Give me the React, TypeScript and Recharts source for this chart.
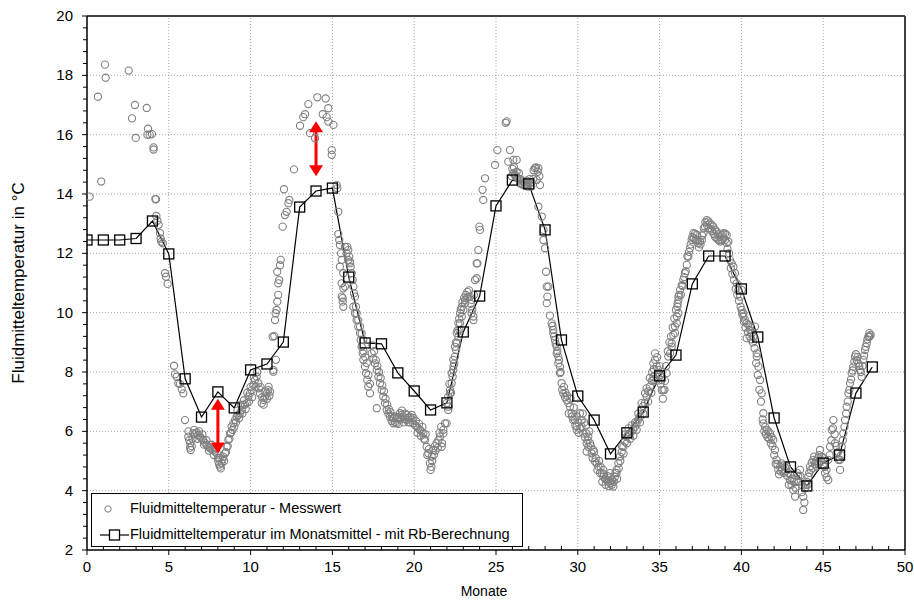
import React from "react";
import {
  ComposedChart,
  Scatter,
  Line,
  XAxis,
  YAxis,
  ReferenceLine,
  ReferenceDot,
} from "recharts";

// Monthly mean (with Rb calculation), months 0..48
const meanMonths = [
  0, 1, 2, 3, 4, 5, 6, 7, 8, 9, 10, 11, 12, 13, 14, 15, 16, 17, 18, 19, 20, 21, 22, 23, 24,
  25, 26, 27, 28, 29, 30, 31, 32, 33, 34, 35, 36, 37, 38, 39, 40, 41, 42, 43, 44, 45, 46, 47, 48,
];
const meanTemps = [
  12.45, 12.45, 12.45, 12.5, 13.09, 11.98, 7.77, 6.48, 7.33, 6.79, 8.07, 8.27, 9.01, 13.56,
  14.1, 14.2, 11.2, 8.98, 8.95, 7.97, 7.36, 6.72, 6.96, 9.35, 10.56, 13.6, 14.47, 14.34, 12.79,
  9.08, 7.19, 6.38, 5.24, 5.95, 6.65, 7.87, 8.57, 10.97, 11.91, 11.91, 10.8, 9.18, 6.45, 4.8,
  4.16, 4.93, 5.2, 7.29, 8.17,
];

// Measured values [month, °C] – main track
const measured: [number, number][] = [
  [0.16, 13.91], [0.67, 17.28], [0.87, 14.42], [1.1, 18.36], [1.14, 17.92], [2.55, 18.16],
  [2.75, 16.55], [2.93, 17.0], [2.98, 15.89], [3.65, 16.9], [3.69, 16.0], [3.73, 16.2],
  [3.83, 16.0], [3.97, 16.02], [4.07, 15.57], [4.07, 15.5], [4.18, 13.83], [4.22, 13.82],
  [4.24, 13.26], [4.3, 13.1], [4.38, 12.96], [4.46, 12.68], [4.5, 12.5], [4.54, 12.39],
  [4.63, 12.34], [4.77, 11.33], [4.83, 11.21], [4.93, 10.97],
  [5.32, 8.21], [5.38, 7.92], [5.48, 7.84], [5.58, 7.62], [5.68, 7.6], [5.79, 7.42],
  [5.89, 7.28], [5.99, 6.38],
  [6.19, 5.82], [6.25, 5.7], [6.3, 5.6], [6.34, 5.37], [6.4, 5.5], [6.5, 5.93], [6.6, 5.9],
  [6.7, 5.96], [6.8, 5.88], [6.9, 5.82], [7.0, 5.76], [7.1, 5.71], [7.2, 5.62], [7.32, 5.54],
  [7.42, 5.48], [7.52, 5.43], [7.62, 5.4], [7.72, 5.37], [7.82, 5.32], [7.93, 5.26],
  [8.03, 4.98], [8.08, 4.88], [8.13, 4.81], [8.23, 4.92], [8.33, 5.15], [8.44, 5.26],
  [8.54, 5.48], [8.64, 5.71], [8.74, 5.93], [8.84, 6.16], [8.94, 6.27], [9.05, 6.38],
  [9.15, 6.49], [9.25, 6.55], [9.35, 6.61], [9.46, 6.72], [9.56, 6.89], [9.66, 6.9],
  [9.76, 6.95], [9.86, 7.17], [9.96, 7.28], [10.07, 7.39], [10.17, 7.56], [10.27, 7.73],
  [10.37, 7.84], [10.47, 7.62], [10.57, 7.28], [10.68, 6.95], [10.78, 7.06], [10.88, 7.17],
  [10.98, 7.28], [11.08, 7.39], [11.19, 7.34],
  [11.35, 9.19], [11.39, 8.01], [11.39, 8.07], [11.45, 9.21], [11.49, 9.75], [11.53, 9.98],
  [11.55, 8.41], [11.59, 10.09], [11.63, 10.37], [11.63, 11.38], [11.69, 10.6], [11.69, 10.99],
  [11.75, 11.1], [11.8, 11.6], [11.84, 11.78], [11.96, 12.9], [12.04, 14.16], [12.1, 13.29],
  [12.2, 13.4], [12.31, 13.69], [12.37, 13.8], [12.65, 14.83], [13.02, 16.3], [13.22, 16.59],
  [13.33, 16.69], [13.53, 17.03], [13.63, 16.05], [13.94, 15.88], [14.08, 17.26],
  [14.41, 16.69], [14.59, 17.22], [14.65, 16.59], [14.75, 16.89], [14.75, 16.44],
  [14.96, 15.48], [14.96, 15.32], [15.06, 16.33], [15.26, 14.3], [15.3, 14.19], [15.36, 13.4],
  [15.36, 12.65], [15.42, 12.45], [15.46, 12.28], [15.53, 12.0], [15.57, 11.78],
  [15.46, 11.55], [15.67, 11.33], [15.57, 10.99], [15.77, 10.88], [15.57, 10.54],
  [15.63, 10.37], [15.67, 10.2], [15.67, 10.82], [15.63, 10.49], [15.77, 12.22],
  [15.87, 12.0], [15.91, 12.22], [15.97, 12.11], [15.97, 11.78], [16.03, 11.89],
  [16.08, 11.72], [16.08, 11.66], [16.12, 11.55], [16.18, 11.33], [16.24, 11.1],
  [16.28, 10.88], [16.28, 10.2], [16.32, 10.65], [16.38, 10.54], [16.38, 9.98], [16.44, 10.2],
  [16.48, 9.98], [16.48, 9.75], [16.58, 9.75], [16.58, 9.53], [16.69, 9.53], [16.69, 9.31],
  [16.73, 9.08], [16.79, 9.3], [16.79, 8.85], [16.85, 8.63], [16.89, 9.08], [16.89, 8.41],
  [16.99, 8.18], [17.05, 7.96], [17.13, 7.73], [17.19, 7.51], [17.3, 7.28],
  [17.4, 8.63], [17.5, 8.46], [17.6, 8.29], [17.71, 8.07], [17.71, 6.78], [17.81, 7.84],
  [17.91, 7.62], [18.01, 7.39], [18.11, 7.17], [18.22, 6.95], [18.32, 6.72], [18.42, 6.6],
  [18.52, 6.49], [18.62, 6.35], [18.72, 6.27], [18.83, 6.3], [18.93, 6.27], [19.03, 6.45],
  [19.13, 6.61], [19.23, 6.55], [19.33, 6.49], [19.43, 6.42], [19.54, 6.38], [19.64, 6.45],
  [19.74, 6.49], [19.84, 6.4], [19.94, 6.27], [20.05, 6.2], [20.15, 6.16], [20.25, 6.1],
  [20.35, 6.05], [20.45, 6.0], [20.56, 5.93], [20.66, 5.71], [20.76, 5.48], [20.86, 5.26],
  [20.96, 4.92], [21.0, 4.7], [21.07, 5.15], [21.17, 5.37], [21.27, 5.5], [21.37, 5.6],
  [21.48, 5.7], [21.58, 5.82], [21.68, 5.48], [21.78, 6.05], [21.78, 5.93], [21.88, 6.27],
  [21.98, 6.27], [21.98, 6.95], [22.08, 6.72], [22.08, 6.83], [22.08, 7.17], [22.19, 7.39],
  [22.19, 7.28], [22.29, 7.62], [22.29, 7.96], [22.35, 7.84], [22.39, 8.07], [22.39, 8.41],
  [22.45, 8.29], [22.49, 8.52], [22.49, 8.85], [22.56, 8.74], [22.6, 8.97], [22.6, 9.31],
  [22.7, 9.19], [22.7, 9.64], [22.76, 9.42], [22.8, 9.64], [22.8, 9.98], [22.91, 9.87],
  [22.91, 10.2], [23.01, 10.09], [23.11, 10.32], [23.11, 10.43], [23.21, 10.49],
  [23.31, 10.54], [23.41, 10.54], [23.51, 10.43], [23.51, 9.98], [23.62, 9.75], [23.62, 9.87],
  [23.72, 11.1], [23.82, 11.16], [23.82, 11.66], [23.86, 11.66], [23.92, 12.11],
  [23.98, 12.9], [24.02, 12.79], [24.18, 14.14], [24.22, 13.8], [24.33, 14.53],
  [24.94, 14.98], [25.08, 15.48], [25.59, 16.4], [25.65, 16.45], [25.75, 15.09],
  [25.85, 15.48], [25.96, 14.6], [26.06, 15.15], [26.06, 14.7], [26.16, 14.65],
  [26.26, 15.15], [26.26, 14.75], [26.37, 14.5], [26.47, 14.36], [26.57, 14.33],
  [26.67, 14.3], [26.77, 14.3], [26.88, 14.33], [26.98, 14.36], [27.08, 14.36],
  [27.18, 14.4], [27.28, 14.5], [27.38, 14.87], [27.49, 14.47], [27.59, 14.87],
  [27.69, 14.3], [27.59, 13.57], [27.8, 13.24], [27.9, 12.79], [27.9, 12.45], [28.0, 12.17],
  [28.06, 11.38], [28.1, 10.88], [28.14, 10.54], [28.1, 10.32], [28.2, 10.88],
  [28.4, 9.64], [28.5, 9.42], [28.5, 9.31], [28.6, 9.08], [28.71, 8.63], [28.71, 8.85],
  [28.81, 8.29], [28.81, 8.52], [28.91, 7.96], [28.91, 8.18], [29.01, 7.62], [29.11, 7.28],
  [29.22, 7.15], [29.32, 7.06], [29.42, 6.95], [29.52, 6.83], [29.62, 6.61], [29.72, 6.38],
  [29.83, 6.38], [29.93, 6.05], [29.93, 6.16], [30.03, 6.3], [30.13, 6.61], [30.23, 6.16],
  [30.23, 6.38], [30.34, 5.93], [30.44, 5.8], [30.54, 5.93], [30.54, 5.6], [30.54, 5.32],
  [30.64, 5.48], [30.64, 5.82], [30.75, 5.6], [30.85, 5.26], [30.95, 5.37], [31.05, 4.98],
  [31.15, 4.92], [31.26, 4.81], [31.36, 4.59], [31.46, 4.6], [31.56, 4.47], [31.56, 4.7],
  [31.66, 4.4], [31.76, 4.36], [31.86, 4.3], [31.97, 4.25], [31.97, 4.59], [32.07, 4.2],
  [32.17, 4.14], [32.27, 4.47], [32.37, 4.7], [32.37, 4.59], [32.48, 4.92], [32.58, 5.15],
  [32.68, 5.3], [32.78, 5.48], [32.88, 5.65], [32.98, 5.82], [33.09, 5.9], [33.19, 5.93],
  [33.29, 6.0], [33.39, 6.05], [33.49, 6.15], [33.59, 6.27], [33.7, 6.4], [33.8, 6.49],
  [33.9, 6.72], [34.0, 6.85], [34.11, 6.95], [34.11, 7.28], [34.21, 7.17], [34.31, 7.35],
  [34.41, 7.51], [34.52, 7.7], [34.62, 7.84], [34.62, 7.73], [34.62, 8.29], [34.72, 8.41],
  [34.72, 8.63], [34.82, 8.18], [34.92, 7.96], [34.92, 8.07], [35.03, 7.9], [35.13, 7.73],
  [35.13, 7.39], [35.13, 7.84], [35.23, 7.39], [35.33, 7.7], [35.43, 7.96], [35.53, 8.52],
  [35.64, 8.63], [35.74, 8.85], [35.74, 8.97], [35.84, 9.25], [35.94, 9.31], [35.94, 9.53],
  [36.05, 9.64], [36.05, 9.87], [36.09, 10.2], [36.15, 9.98], [36.15, 10.43], [36.15, 10.54],
  [36.25, 10.77], [36.35, 10.93], [36.45, 11.1], [36.55, 11.33], [36.66, 11.61],
  [36.76, 11.89], [36.86, 12.17], [36.96, 12.45], [37.07, 12.68], [37.17, 12.66],
  [37.27, 12.62], [37.37, 12.34], [37.47, 12.4], [37.58, 12.45], [37.68, 12.68],
  [37.78, 12.9], [37.88, 13.12], [37.98, 13.08], [38.08, 13.01], [38.18, 12.95],
  [38.28, 12.9], [38.39, 12.8], [38.49, 12.73], [38.59, 12.65], [38.69, 12.56], [38.8, 12.62],
  [38.9, 12.68], [39.0, 12.66], [39.1, 12.62], [39.2, 12.39], [39.3, 11.78], [39.41, 11.66],
  [39.51, 11.55], [39.61, 11.33], [39.71, 10.99], [39.82, 10.77], [39.92, 10.54],
  [40.02, 10.77], [40.02, 10.09], [40.12, 9.87], [40.12, 9.98], [40.22, 9.75], [40.32, 9.64],
  [40.32, 9.14], [40.42, 9.6], [40.53, 9.53], [40.53, 9.42], [40.63, 9.3], [40.73, 9.19],
  [40.83, 9.53], [40.94, 8.63], [40.94, 8.52], [41.04, 8.18], [41.14, 7.73], [41.24, 7.28],
  [41.34, 6.61], [41.34, 6.27], [41.45, 6.15], [41.55, 6.05], [41.65, 6.0], [41.75, 5.93],
  [41.85, 5.8], [41.95, 5.71], [42.05, 5.37], [42.15, 5.04], [42.26, 4.7], [42.36, 4.8],
  [42.46, 4.92], [42.56, 4.85], [42.66, 4.8], [42.76, 4.81], [42.87, 4.6], [42.97, 4.36],
  [43.07, 4.2], [43.17, 4.02], [43.28, 3.8], [43.38, 4.3], [43.48, 4.5], [43.58, 4.7],
  [43.68, 4.2], [43.78, 3.8], [43.78, 3.35], [43.89, 4.08], [43.99, 4.3], [44.09, 4.47],
  [44.19, 4.81], [44.3, 4.95], [44.4, 5.04], [44.5, 4.9], [44.6, 4.81], [44.7, 5.1],
  [44.8, 5.37], [44.91, 5.15], [45.01, 4.85], [45.11, 4.59], [45.21, 4.45], [45.31, 4.36],
  [45.31, 5.04], [45.42, 5.48], [45.52, 6.05], [45.62, 6.38], [45.72, 5.6], [45.82, 5.26],
  [45.93, 5.04], [46.03, 4.7], [46.03, 5.04], [46.13, 5.48], [46.23, 5.93], [46.33, 6.38],
  [46.44, 6.83], [46.54, 7.28], [46.64, 7.62], [46.74, 7.96], [46.84, 8.18], [46.94, 8.52],
  [47.05, 8.4], [47.15, 8.29], [47.25, 8.07], [47.35, 7.84], [47.45, 8.41], [47.56, 8.74],
  [47.66, 8.97], [47.76, 9.19], [47.82, 9.31], [47.9, 9.25],
];

// Measured values [month, °C] – further circles that thicken the dense bands
const measuredBand: [number, number][] = [
  [6.2, 6.0], [6.3, 5.45], [6.45, 5.75], [6.55, 6.05], [6.75, 5.75], [6.85, 6.0], [7.05, 5.9],
  [7.15, 5.55], [7.3, 5.7], [7.45, 5.35], [7.6, 5.55], [7.75, 5.2], [7.85, 5.45], [8.0, 5.1],
  [8.1, 5.1], [8.18, 4.75], [8.28, 5.05], [8.38, 5.0], [8.5, 5.3], [8.6, 5.5], [8.7, 5.75],
  [8.8, 5.95], [8.9, 6.05], [9.0, 6.15], [9.1, 6.3], [9.2, 6.7], [9.3, 6.45], [9.4, 6.9],
  [9.5, 6.6], [9.6, 7.05], [9.7, 6.75], [9.8, 7.3], [9.9, 7.0], [10.0, 7.5], [10.1, 7.15],
  [10.2, 7.8], [10.3, 7.5], [10.4, 8.0], [10.5, 7.45], [10.6, 7.5], [10.7, 7.15], [10.8, 6.9],
  [10.9, 7.35], [11.0, 7.1], [11.1, 7.5], [11.15, 7.2],
  [16.9, 8.7], [17.0, 8.5], [17.1, 8.3], [17.2, 7.9], [17.3, 7.6], [17.45, 8.9], [17.55, 8.7],
  [17.65, 8.4], [17.75, 8.2], [17.85, 8.0], [17.95, 7.8], [18.05, 7.55], [18.15, 7.35],
  [18.25, 7.1], [18.35, 6.9], [18.45, 6.75], [18.55, 6.65], [18.65, 6.5], [18.75, 6.45],
  [18.85, 6.5], [18.95, 6.45], [19.05, 6.25], [19.15, 6.4], [19.25, 6.7], [19.35, 6.3],
  [19.45, 6.6], [19.55, 6.55], [19.65, 6.3], [19.75, 6.3], [19.85, 6.55], [19.95, 6.45],
  [20.1, 6.35], [20.2, 5.95], [20.3, 6.25], [20.4, 5.85], [20.5, 6.15], [20.6, 5.75],
  [20.7, 5.9], [20.8, 5.2], [20.9, 5.4], [21.05, 4.8], [21.1, 5.0], [21.2, 5.2], [21.3, 5.35],
  [21.45, 5.45], [21.55, 5.95], [21.65, 6.15], [21.7, 5.6],
  [22.15, 7.6], [22.25, 7.3], [22.4, 8.2], [22.55, 9.0], [22.65, 9.4], [22.75, 9.8],
  [22.85, 10.1], [22.95, 10.35], [23.05, 10.5], [23.15, 10.6], [23.25, 10.7], [23.35, 10.75],
  [23.45, 10.3], [23.55, 10.1], [23.65, 10.6],
  [26.0, 14.85], [26.1, 14.9], [26.2, 14.6], [26.3, 14.55], [26.4, 14.7], [26.5, 14.5],
  [26.6, 14.45], [26.7, 14.4], [26.85, 14.45], [26.95, 14.25], [27.05, 14.5], [27.15, 14.25],
  [27.3, 14.8], [27.45, 14.9], [27.55, 14.75], [27.65, 14.6],
  [28.3, 9.9], [28.45, 9.55], [28.55, 9.2], [28.65, 8.95], [28.75, 8.7], [28.85, 8.4],
  [28.95, 8.0], [29.05, 7.4], [29.15, 7.5], [29.25, 7.3], [29.35, 7.2], [29.45, 6.6],
  [29.55, 7.1], [29.65, 6.5], [29.75, 6.8], [29.85, 6.2], [29.95, 6.5], [30.05, 5.95],
  [30.15, 6.1], [30.3, 6.6], [30.4, 6.3], [30.5, 6.2], [30.6, 5.7], [30.7, 6.0], [30.8, 5.5],
  [30.9, 5.1], [31.0, 5.3], [31.1, 5.1], [31.2, 4.7], [31.3, 5.0], [31.4, 4.8], [31.5, 4.3],
  [31.6, 4.55], [31.7, 4.2], [31.8, 4.5], [31.9, 4.15], [32.0, 4.45], [32.1, 4.35],
  [32.2, 4.3], [32.3, 4.6], [32.4, 4.4],
  [32.5, 4.75], [32.6, 5.0], [32.7, 5.5], [32.8, 5.25], [32.9, 5.9], [33.0, 5.6], [33.1, 6.1],
  [33.2, 5.75], [33.3, 6.2], [33.4, 5.85], [33.5, 6.3], [33.6, 6.05], [33.7, 6.6], [33.8, 6.3],
  [33.9, 6.95], [34.0, 6.6], [34.2, 7.45], [34.3, 7.0], [34.4, 7.8], [34.5, 7.3], [34.55, 8.0],
  [34.65, 8.1], [34.8, 7.7], [34.85, 8.5], [35.0, 8.2], [35.05, 7.6], [35.2, 7.1], [35.3, 7.4],
  [35.4, 8.2], [35.5, 8.7], [35.6, 9.0], [35.7, 9.2], [35.8, 9.5], [35.9, 9.8], [36.0, 10.1],
  [36.1, 10.3], [36.2, 10.6], [36.3, 10.6], [36.4, 10.9],
  [36.5, 11.2], [36.6, 11.4], [36.7, 11.9], [36.8, 12.05], [36.9, 12.3], [37.0, 12.55],
  [37.1, 12.5], [37.2, 12.45], [37.3, 12.45], [37.4, 12.2], [37.5, 12.3], [37.6, 12.6],
  [37.7, 12.85], [37.8, 13.05], [37.9, 12.95], [38.0, 12.85], [38.1, 12.8], [38.2, 12.75],
  [38.3, 12.65], [38.4, 12.55], [38.5, 12.5], [38.6, 12.45], [38.7, 12.4], [38.8, 12.45],
  [38.9, 12.5], [39.0, 12.45], [39.1, 12.35], [39.15, 12.15], [39.25, 12.0],
  [39.35, 11.5], [39.45, 11.3], [39.55, 11.1], [39.65, 10.8], [39.75, 10.6], [39.85, 10.4],
  [39.95, 10.2], [40.05, 9.95], [40.15, 9.7], [40.25, 9.5], [40.4, 9.35], [40.5, 9.2],
  [40.6, 9.1], [40.7, 9.0], [40.8, 8.8], [40.9, 8.3], [41.0, 7.9], [41.1, 7.4], [41.2, 7.0],
  [41.3, 6.4], [41.4, 6.0], [41.5, 5.9], [41.6, 5.8], [41.7, 5.75], [41.8, 5.6], [41.9, 5.5],
  [42.0, 5.2], [42.1, 4.9], [42.2, 4.9], [42.3, 4.55], [42.4, 4.65], [42.5, 4.7], [42.6, 4.6],
  [42.7, 4.65], [42.8, 4.5], [42.9, 4.2], [43.0, 4.55], [43.1, 4.4], [43.2, 4.3], [43.3, 4.1],
  [43.4, 4.6], [43.5, 4.3], [43.6, 4.5], [43.7, 3.95], [43.85, 3.6], [43.95, 4.2],
  [44.05, 4.2], [44.15, 4.6], [44.25, 4.7], [44.35, 4.75], [44.45, 5.15], [44.55, 5.0],
  [44.65, 4.95], [44.75, 5.2], [44.85, 5.0],
  [45.0, 5.1], [45.1, 4.8], [45.2, 4.7], [45.4, 5.2], [45.5, 5.7], [45.6, 6.1], [45.7, 5.9],
  [45.8, 5.5], [45.9, 5.3], [46.1, 5.2], [46.2, 5.7], [46.3, 6.15], [46.4, 6.6], [46.5, 7.0],
  [46.6, 7.4], [46.7, 7.75], [46.8, 8.05], [46.9, 8.35], [47.0, 8.6], [47.1, 8.5], [47.2, 8.2],
  [47.3, 8.0], [47.4, 8.2], [47.5, 8.55], [47.6, 8.85], [47.7, 9.1], [47.8, 9.2], [47.85, 9.2],
];

// Red double arrows: [month, top, bottom]
const arrowMonths = [8, 14];
const arrowTops = [7.1, 16.45];
const arrowBottoms = [5.25, 14.6];

const xMajorTicks = [0, 5, 10, 15, 20, 25, 30, 35, 40, 45, 50];
const yMajorTicks = [2, 4, 6, 8, 10, 12, 14, 16, 18, 20];

const xAllTicks: number[] = [];
for (let i = 0; i <= 50; i++) xAllTicks.push(i);
const yAllTicks: number[] = [];
for (let i = 0; i <= 45; i++) yAllTicks.push(Math.round((2 + i * 0.4) * 10) / 10);

const scatterData = [...measured, ...measuredBand].map(([x, y]) => ({ x, y }));
const lineData = meanMonths.map((m, i) => ({ x: m, y: meanTemps[i] }));

const FONT = "'Liberation Sans', Arial, sans-serif";

const XTick = (props: any) => {
  const { x, y, payload } = props;
  const v = payload.value;
  const major = xMajorTicks.includes(v);
  return (
    <g>
      {major ? (
        <line x1={x} x2={x} y1={y} y2={y + 5} stroke="#000" strokeWidth={1} />
      ) : (
        <line x1={x} x2={x} y1={y} y2={y - 4} stroke="#000" strokeWidth={1} />
      )}
      {major && (
        <text x={x} y={y + 22} textAnchor="middle" fontSize={15} fontFamily={FONT} fill="#000">
          {v}
        </text>
      )}
    </g>
  );
};

const YTick = (props: any) => {
  const { x, y, payload } = props;
  const v = payload.value;
  const major = yMajorTicks.includes(v);
  return (
    <g>
      <line x1={x} x2={x - (major ? 5 : 4)} y1={y} y2={y} stroke="#000" strokeWidth={1} />
      {major && (
        <text x={x - 14} y={y + 5} textAnchor="end" fontSize={15} fontFamily={FONT} fill="#000">
          {v}
        </text>
      )}
    </g>
  );
};

const CircleShape = (props: any) => {
  const { cx, cy } = props;
  if (cx == null || cy == null) return null;
  return <circle cx={cx} cy={cy} r={3.6} fill="none" stroke="#808080" strokeWidth={1.1} />;
};

const SquareDot = (props: any) => {
  const { cx, cy, index } = props;
  if (cx == null || cy == null) return <g key={index} />;
  return (
    <rect
      key={index}
      x={cx - 5}
      y={cy - 5}
      width={10}
      height={10}
      fill="none"
      stroke="#000"
      strokeWidth={1.3}
    />
  );
};

const UpHead = (props: any) => {
  const { cx, cy } = props;
  return <polygon points={`${cx},${cy} ${cx - 7},${cy + 11} ${cx + 7},${cy + 11}`} fill="#ff0000" />;
};
const DownHead = (props: any) => {
  const { cx, cy } = props;
  return <polygon points={`${cx},${cy} ${cx - 7},${cy - 11} ${cx + 7},${cy - 11}`} fill="#ff0000" />;
};

export default function App() {
  return (
    <div style={{ position: "absolute", left: 0, top: 0, width: 914, height: 603, background: "#fff" }}>
      <ComposedChart
        width={914}
        height={603}
        margin={{ top: 16, right: 9, bottom: 0, left: 0 }}
      >
        <XAxis
          type="number"
          dataKey="x"
          domain={[0, 50]}
          ticks={xAllTicks}
          interval={0}
          tick={<XTick />}
          tickLine={false}
          tickSize={0}
          tickMargin={0}
          height={53}
          axisLine={{ stroke: "#000", strokeWidth: 1.5 }}
          allowDataOverflow
        />
        <YAxis
          type="number"
          dataKey="y"
          domain={[2, 20]}
          ticks={yAllTicks}
          interval={0}
          tick={<YTick />}
          tickLine={false}
          tickSize={0}
          tickMargin={0}
          width={87}
          axisLine={{ stroke: "#000", strokeWidth: 1.5 }}
          allowDataOverflow
        />
        {xMajorTicks.slice(1, -1).map((v) => (
          <ReferenceLine key={"gx" + v} x={v} stroke="#a6a6a6" strokeDasharray="1 2" />
        ))}
        {yMajorTicks.slice(1, -1).map((v) => (
          <ReferenceLine key={"gy" + v} y={v} stroke="#a6a6a6" strokeDasharray="1 2" />
        ))}
        <ReferenceLine y={20} stroke="#404040" strokeWidth={2} />
        <ReferenceLine x={50} stroke="#404040" strokeWidth={2} />
        <Scatter
          name="Fluidmitteltemperatur - Messwert"
          data={scatterData}
          shape={<CircleShape />}
          isAnimationActive={false}
        />
        <Line
          name="Fluidmitteltemperatur im Monatsmittel - mit Rb-Berechnung"
          data={lineData}
          dataKey="y"
          stroke="#000"
          strokeWidth={1.2}
          dot={<SquareDot />}
          activeDot={false}
          isAnimationActive={false}
        />
        {arrowMonths.map((m, i) => (
          <ReferenceLine
            key={"ar" + i}
            segment={[
              { x: m, y: arrowTops[i] - 0.25 },
              { x: m, y: arrowBottoms[i] + 0.25 },
            ]}
            stroke="#ff0000"
            strokeWidth={3}
          />
        ))}
        {arrowMonths.map((m, i) => (
          <ReferenceDot key={"ah" + i} x={m} y={arrowTops[i]} shape={<UpHead />} />
        ))}
        {arrowMonths.map((m, i) => (
          <ReferenceDot key={"ab" + i} x={m} y={arrowBottoms[i]} shape={<DownHead />} />
        ))}
      </ComposedChart>
      <div
        style={{
          position: "absolute",
          left: 5,
          top: 283,
          transform: "translate(-50%, -50%) rotate(-90deg)",
          transformOrigin: "center",
          marginLeft: 14,
          fontFamily: FONT,
          fontSize: 17,
          whiteSpace: "nowrap",
        }}
      >
        Fluidmitteltemperatur in °C
      </div>
      <div
        style={{
          position: "absolute",
          left: 484,
          top: 583,
          transform: "translateX(-50%)",
          fontFamily: FONT,
          fontSize: 14,
          whiteSpace: "nowrap",
        }}
      >
        Monate
      </div>
      <div
        style={{
          position: "absolute",
          left: 91,
          top: 493,
          width: 430,
          height: 52,
          border: "1px solid #000",
          background: "#fff",
          fontFamily: FONT,
          fontSize: 14.5,
        }}
      >
        <svg style={{ position: "absolute", left: 0, top: 0 }} width={40} height={52}>
          <circle cx={16} cy={15} r={3.2} fill="none" stroke="#7f7f7f" strokeWidth={1} />
          <line x1={8} x2={37} y1={41} y2={41} stroke="#000" strokeWidth={1.2} />
          <rect x={17.5} y={36} width={10} height={10} fill="#fff" stroke="#000" strokeWidth={1.3} />
        </svg>
        <div style={{ position: "absolute", left: 38, top: 6, whiteSpace: "nowrap" }}>
          Fluidmitteltemperatur - Messwert
        </div>
        <div style={{ position: "absolute", left: 38, top: 32, whiteSpace: "nowrap" }}>
          Fluidmitteltemperatur im Monatsmittel - mit Rb-Berechnung
        </div>
      </div>
    </div>
  );
}
